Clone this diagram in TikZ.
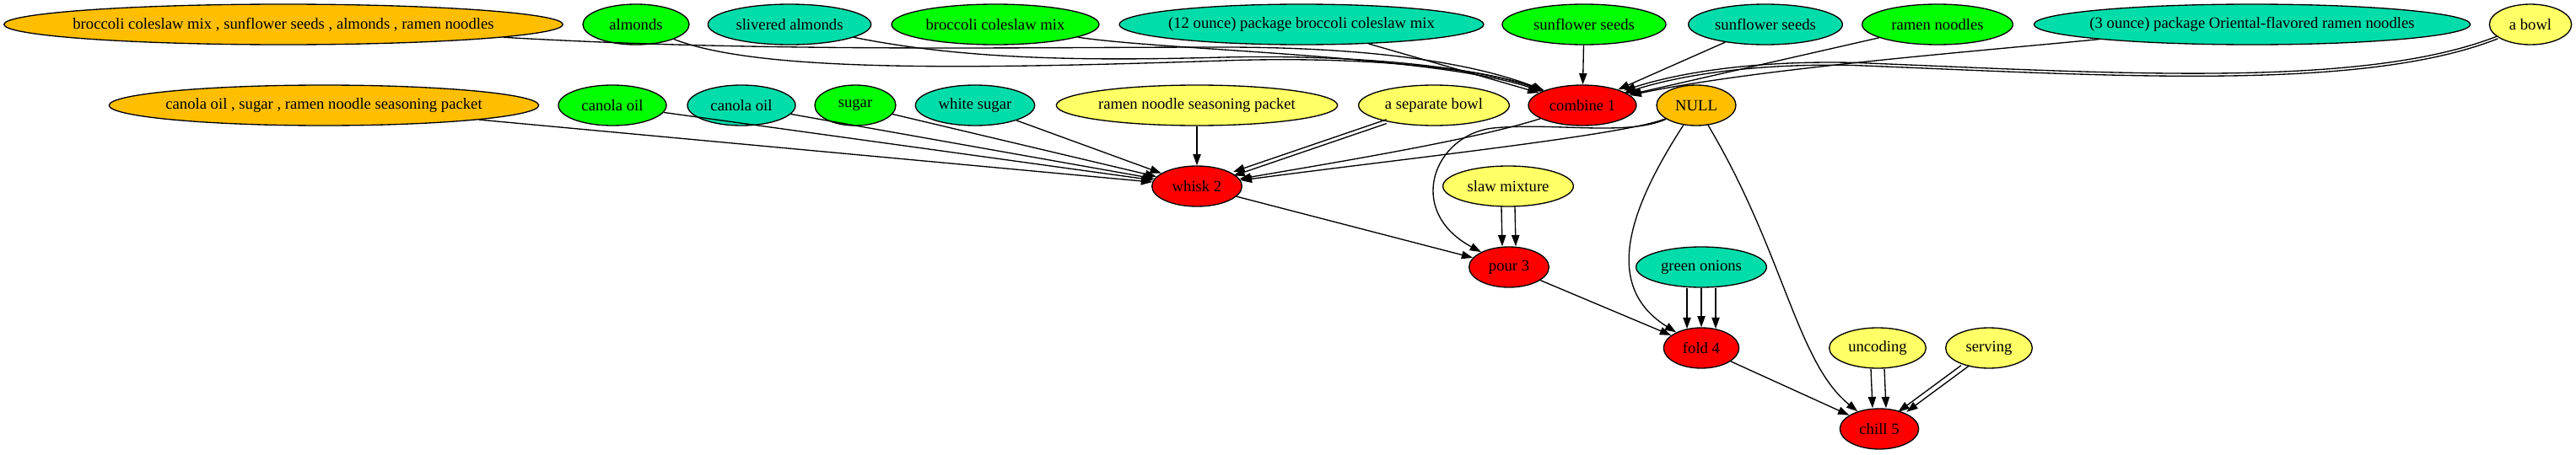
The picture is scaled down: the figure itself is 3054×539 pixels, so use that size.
\documentclass[tikz,border=0pt]{standalone}
\usepackage{fontspec}
\setmainfont{Liberation Serif}
\usetikzlibrary{arrows.meta, shapes.geometric}

\definecolor{cgreen}{RGB}{0,255,0}
\definecolor{cteal}{RGB}{0,221,170}
\definecolor{cyellow}{RGB}{255,255,102}
\definecolor{corange}{RGB}{255,191,0}
\definecolor{cred}{RGB}{255,0,0}

\begin{document}
\begin{tikzpicture}[x = 0.75pt, y = -0.75pt,
        item/.style = {ellipse, draw = black, line width = 1pt, minimum height = 36pt,
            inner xsep = -12pt, inner ysep = 0pt, font = \fontsize{14pt}{17pt}\selectfont},
        link/.style = {-{Triangle[length = 10pt, width = 7pt]}, line width = 1pt}]
        \useasboundingbox (0, 0) rectangle (3054, 539);
        % first row
        \node (mixa) at (336, 29) [item, fill = corange, minimum width = 497pt] {broccoli coleslaw mix , sunflower seeds , almonds , ramen noodles};
        \node (almonds) at (754, 29) [item, fill = cgreen, minimum width = 94.5pt] {almonds};
        \node (slivered) at (936, 29) [item, fill = cteal, minimum width = 145pt] {slivered almonds};
        \node (coleslaw) at (1180, 29) [item, fill = cgreen, minimum width = 184.5pt] {broccoli coleslaw mix};
        \node (coleslawpkg) at (1543, 29) [item, fill = cteal, minimum width = 324pt] {(12 ounce) package broccoli coleslaw mix};
        \node (seeds) at (1878, 29) [item, fill = cgreen, minimum width = 145.5pt] {sunflower seeds};
        \node (seedsb) at (2093, 29) [item, fill = cteal, minimum width = 137pt] {sunflower seeds};
        \node (noodles) at (2297, 29) [item, fill = cgreen, minimum width = 134pt] {ramen noodles};
        \node (noodlespkg) at (2670, 29) [item, fill = cteal, minimum width = 388pt] {(3 ounce) package Oriental-flavored ramen noodles};
        \node (bowl) at (3000, 29) [item, fill = cyellow, minimum width = 73pt] {a bowl};
        % second row
        \node (mixb) at (384, 125) [item, fill = corange, minimum width = 382pt] {canola oil , sugar , ramen noodle seasoning packet};
        \node (oil) at (726, 125) [item, fill = cgreen, minimum width = 96pt] {canola oil};
        \node (oilb) at (879, 125) [item, fill = cteal, minimum width = 96pt] {canola oil};
        \node (sugar) at (1014, 125) [item, fill = cgreen, minimum width = 72pt] {sugar};
        \node (whitesugar) at (1156, 125) [item, fill = cteal, minimum width = 106pt] {white sugar};
        \node (seasoning) at (1419, 125) [item, fill = cyellow, minimum width = 250pt] {ramen noodle seasoning packet};
        \node (sepbowl) at (1700, 125) [item, fill = cyellow, minimum width = 134pt] {a separate bowl};
        \node (combine) at (1876, 125) [item, fill = cred, minimum width = 96pt] {combine 1};
        \node (null) at (2011, 125) [item, fill = corange, minimum width = 70.5pt] {NULL};
        % steps and the rest
        \node (whisk) at (1419, 221) [item, fill = cred, minimum width = 80pt] {whisk 2};
        \node (slaw) at (1788, 221) [item, fill = cyellow, minimum width = 116pt] {slaw mixture};
        \node (pour) at (1789, 317) [item, fill = cred, minimum width = 71pt] {pour 3};
        \node (onions) at (2017, 317) [item, fill = cteal, minimum width = 116pt] {green onions};
        \node (fold) at (2017, 413) [item, fill = cred, minimum width = 67pt] {fold 4};
        \node (uncoding) at (2226, 413) [item, fill = cyellow, minimum width = 86pt] {uncoding};
        \node (serving) at (2358, 413) [item, fill = cyellow, minimum width = 77pt] {serving};
        \node (chill) at (2228, 509) [item, fill = cred, minimum width = 70pt] {chill 5};

        % into combine 1
        \draw[link] (mixa) .. controls (900, 62) and (1200, 56) .. (1450, 56) .. controls (1650, 56) and (1760, 80) .. (combine);
        \draw[link] (almonds) .. controls (900, 86) and (1150, 82) .. (1450, 72) .. controls (1620, 66) and (1760, 82) .. (combine);
        \draw[link] (slivered) .. controls (1150, 72) and (1300, 72) .. (1450, 68) .. controls (1620, 64) and (1760, 82) .. (combine);
        \draw[link] (coleslaw) .. controls (1380, 60) and (1700, 65) .. (combine);
        \draw[link] (coleslawpkg) -- (combine);
        \draw[link] (seeds) -- (combine);
        \draw[link] (seedsb) -- (combine);
        \draw[link] (noodles) -- (combine);
        \draw[link] (noodlespkg) .. controls (2330, 62) and (2080, 82) .. (combine);
        \foreach \s in {-1.2pt, 1.2pt}
            \draw[link, transform canvas = {yshift = \s}] (bowl) .. controls (2800, 108) and (2500, 88) .. (2200, 76) .. controls (2080, 73) and (1990, 88) .. (combine);

        % into whisk 2
        \draw[link] (mixb) -- (whisk);
        \draw[link] (oil) -- (whisk);
        \draw[link] (oilb) -- (whisk);
        \draw[link] (sugar) -- (whisk);
        \draw[link] (whitesugar) -- (whisk);
        \draw[link] (seasoning) -- (whisk);
        \foreach \s in {-1.8pt, 1.8pt}
            \draw[link, transform canvas = {yshift = \s}] (sepbowl) -- (whisk);
        \draw[link] (combine) .. controls (1750, 165) and (1600, 190) .. (whisk);
        \draw[link] (null) .. controls (1930, 160) and (1650, 190) .. (whisk);

        % into pour 3
        \draw[link] (whisk) -- (pour);
        \foreach \s in {-6pt, 6pt}
            \draw[link] ([xshift = \s]slaw.south) -- ([xshift = \s]pour.north);
        \draw[link] (null) .. controls (1930, 162) and (1840, 145) .. (1770, 152) .. controls (1700, 160) and (1665, 250) .. (pour);

        % into fold 4
        \draw[link] (pour) -- (fold);
        \foreach \s/\d in {-12.75pt/-1.35pt, 0pt/0pt, 12.75pt/-1.35pt}
            \draw[link] ([xshift = \s]onions.south) -- ([xshift = \s, yshift = \d]fold.north);
        \draw[link] (null) .. controls (1930, 250) and (1900, 340) .. (fold);

        % into chill 5
        \draw[link] (fold) -- (chill);
        \draw[link] (null) .. controls (2115, 300) and (2130, 430) .. (chill);
        \foreach \s in {-6pt, 6pt}
            \draw[link] ([xshift = \s]uncoding.south) -- ([xshift = \s]chill.north);
        \foreach \s in {-3.75pt, 3.75pt}
            \draw[link, transform canvas = {xshift = \s}] (serving) -- (chill);
    \end{tikzpicture}
\end{document}
